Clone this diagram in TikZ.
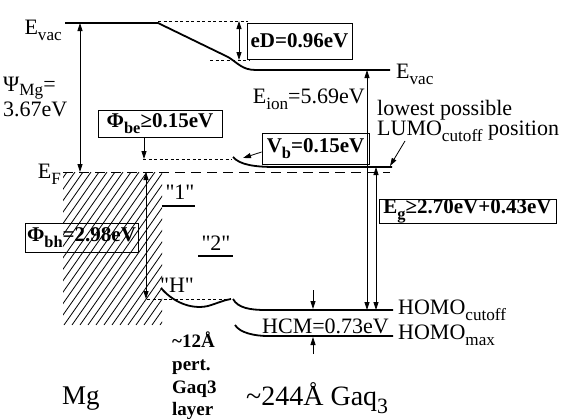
\documentclass[tikz,border=0pt]{standalone}
\usepackage{fontspec}
\setmainfont{Liberation Serif}[Ligatures=TeXOff]
\usepackage{graphicx}
\usetikzlibrary{arrows.meta}
\newcommand\lo[1]{\raisebox{-0.3em}{\scalebox{0.78}{#1}}}
\newcommand\fs[1]{\fontsize{#1}{#1}\selectfont}
\newcommand\qq[1]{\char34 #1\char34}
\begin{document}
\begin{tikzpicture}[x=1pt,y=-1pt,
 lvl/.style={line width=1.8pt},
 thinl/.style={line width=0.8pt},
 arr/.style={thinl,-{Triangle[length=8pt,width=5pt]}},
 darr/.style={thinl,{Triangle[length=8pt,width=5pt]}-{Triangle[length=8pt,width=5pt]}},
 dotl/.style={thinl,dash pattern=on 3pt off 2.5pt},
 dshl/.style={thinl,dash pattern=on 10pt off 6pt},
 lbl/.style={inner sep=0pt,font=\fs{22}},
 boxed/.style={draw,thinl,inner sep=0pt,font=\fs{21}\bfseries},
 small/.style={inner sep=0pt,font=\fs{19}\bfseries,anchor=base west},
]
\useasboundingbox (0,0) rectangle (561,418);
% hatch (metal)
\begin{scope}
\clip (63,172) rectangle (162,325);
\foreach \i in {-120,-112,...,170} \draw[thinl] (\i,325) -- ++(107,-153);
\end{scope}
% coordinates
\coordinate (vacL) at (65,23);
\coordinate (vacK) at (158,23);
\coordinate (vacR) at (390,70);
\coordinate (psiT) at (80,23);
\coordinate (psiB) at (80,172);
\coordinate (efL) at (63,172);
\coordinate (efR) at (390,172);
\coordinate (lumoR) at (392,167);
\coordinate (hcR) at (393,310);
\coordinate (hmR) at (393,336);
% vacuum levels
\draw[lvl] (vacL) -- (vacK) -- (228,57) .. controls (238,63) and (242,70) .. (256,70) -- (vacR);
\draw[dotl] (vacK) ++(0,-2) -- (248,21);
\draw[dotl] (210,60) -- (250,60);
\coordinate (eDt) at (239,21);
\coordinate (eDb) at (239,60);
\draw[darr] (eDt) -- (eDb);
\node[boxed,minimum width=105pt,minimum height=36pt] (eD) at (299.5,41) {eD=0.96eV};
\node[lbl,anchor=base east] (evacl) at (62,34) {E\lo{vac}};
\node[lbl,anchor=base west] (evacr) at (396,78) {E\lo{vac}};
% work function
\draw[darr] (psiT) -- (psiB);
\node[lbl,anchor=base west] (psi) at (3,91) {Ψ\raisebox{-0.22em}{\scalebox{0.78}{Mg}}=};
\node[lbl,anchor=base west] (psiv) at (3,116) {3.67eV};
% Fermi level
\draw[dshl] (efL) -- (efR);
\node[lbl,anchor=base east] (ef) at (61,178) {E\lo{F}};
% LUMO
\draw[dotl] (143,159) -- (232,159);
\draw[lvl] (233,157) .. controls (240,165) and (255,167) .. (276,167) -- (lumoR);
\node[boxed,minimum width=107pt,minimum height=31pt] (vb) at (315.5,148.5) {V\lo{b}=0.15eV};
\coordinate (vbtip) at (243,158);
\draw[arr] (vb.west |- 0,152) -- (vbtip);
\node[boxed,minimum width=124pt,minimum height=27pt] (be) at (160,123.5) {Φ\lo{be}≥0.15eV};
\coordinate (betip) at (144,159);
\draw[arr] (be.south -| betip) -- (betip);
\node[lbl,anchor=base east] (eion) at (365,103) {E\lo{ion}=5.69eV};
\node[lbl,anchor=base west] (low1) at (377,115) {lowest possible};
\node[lbl,anchor=base west] (low2) at (377,135) {LUMO\lo{cutoff} position};
\coordinate (lowtip) at (390,166);
\draw[arr] (405,141) -- (lowtip);
% gap arrows
\coordinate (ionT) at (367,70);
\coordinate (ionB) at (367,310);
\coordinate (gT) at (376,167);
\coordinate (gB) at (376,310);
\draw[darr] (ionT) -- (ionB);
\draw[darr] (gT) -- (gB);
\node[boxed,minimum width=177pt,minimum height=22pt] (eg) at (467.5,211) {E\lo{g}≥2.70eV+0.43eV};
% hole barrier
\coordinate (bhT) at (146,172);
\coordinate (bhB) at (146,299);
\draw[darr] (bhT) -- (bhB);
\node[boxed,minimum width=113pt,minimum height=29pt] (bh) at (81.5,237.5) {Φ\lo{bh}=2.98eV};
\draw[dotl] (147,299) -- (230,299);
% interface states
\node[lbl] (s1) at (180,192) {\qq{1}};
\draw[lvl] (162,206) -- (195,206);
\node[lbl] (s2) at (216,243) {\qq{2}};
\draw[lvl] (198,256) -- (233,256);
\node[lbl] (sH) at (177,285) {\qq{H}};
% HOMO levels
\draw[lvl] (161,288) .. controls (172,301) and (190,310) .. (208,306) .. controls (218,303) and (224,300) .. (231,299);
\draw[lvl] (233,299) .. controls (238,308) and (250,310) .. (266,310) -- (hcR);
\draw[lvl] (235,325) .. controls (240,333) and (255,336) .. (268,336) -- (hmR);
\coordinate (hcmT) at (313,309);
\coordinate (hcmB) at (313,337);
\draw[arr] (313,290) -- (hcmT);
\draw[arr] (313,354) -- (hcmB);
\node[lbl,anchor=base west] (hcm) at (262,333) {HCM=0.73eV};
\node[lbl,anchor=base west] (hc) at (398,314) {HOMO\lo{cutoff}};
\node[lbl,anchor=base west] (hm) at (398,339) {HOMO\lo{max}};
% bottom labels
\node[inner sep=0pt,font=\fs{27},anchor=base west] (mg) at (62,404) {Mg};
\node[inner sep=0pt,font=\fs{28},anchor=base west] (gaq) at (246,405) {\textasciitilde244Å Gaq\lo{3}};
\node[small] (p1) at (172,347) {\textasciitilde12Å};
\node[small] (p2) at (172,370) {pert.};
\node[small] (p3) at (172,393) {Gaq3};
\node[small] (p4) at (172,415) {layer};
\end{tikzpicture}
\end{document}
